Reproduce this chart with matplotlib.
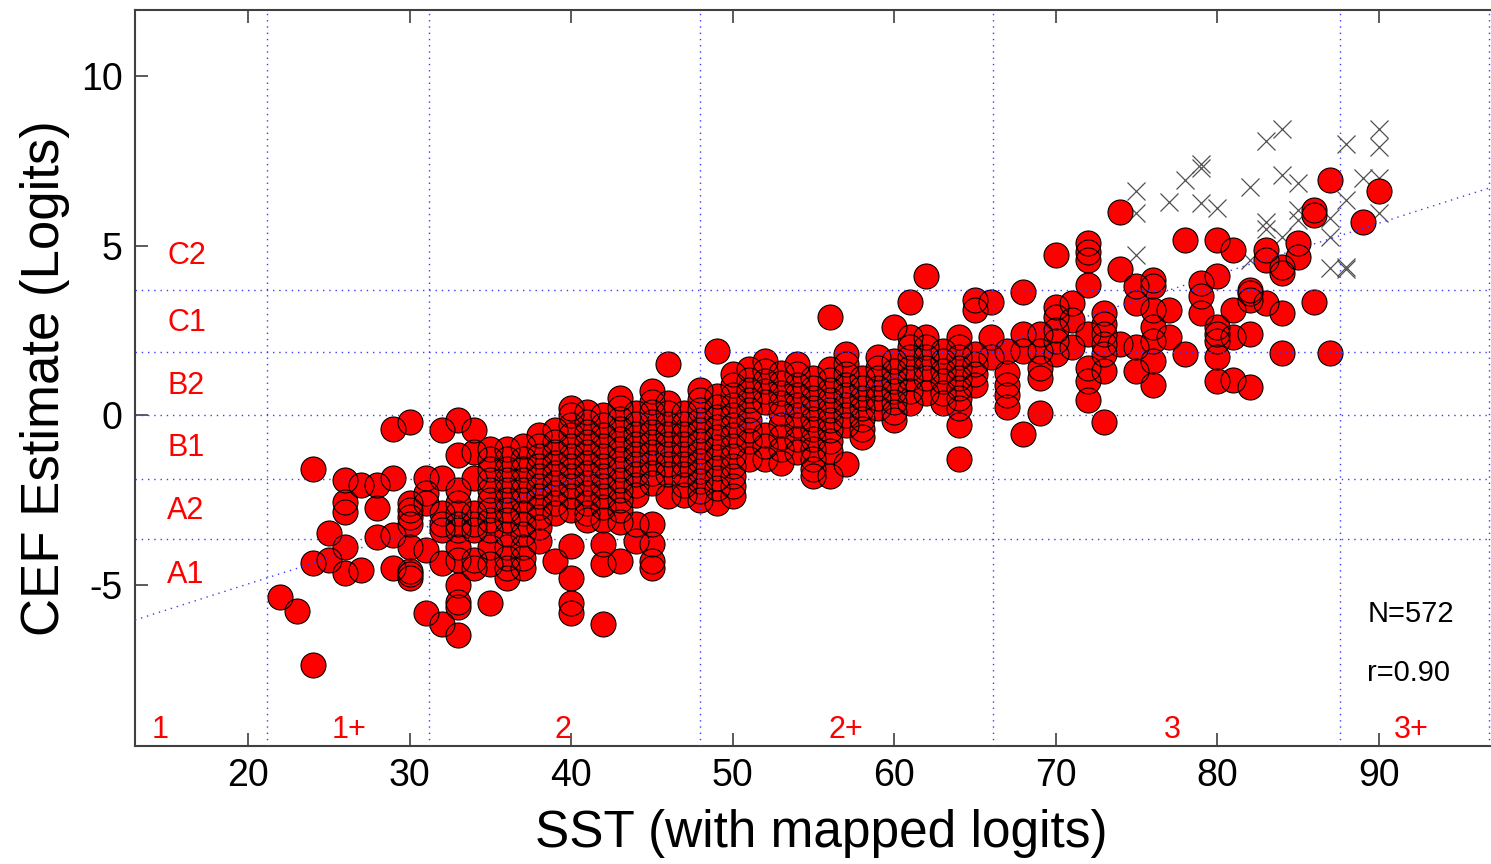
import matplotlib
matplotlib.use("Agg")
import matplotlib.pyplot as plt

plt.rcParams["font.family"] = ["Liberation Sans", "DejaVu Sans"]
plt.rcParams["axes.unicode_minus"] = False

# SST score columns and the CEF estimates (logits)
col_sst = [22, 23, 24, 25, 26, 27, 28, 29, 30, 31, 32, 33, 34, 35, 36, 37, 38, 39,
           40, 41, 42, 43, 44, 45, 46, 47, 48, 49, 50, 51, 52, 53, 54, 55, 56, 57,
           58, 59, 60, 61, 62, 63, 64, 65, 66, 67, 68, 69, 70, 71, 72, 73, 74, 75,
           76, 77, 78, 79, 80, 81, 82, 83, 84, 85, 86, 87, 89, 90]
col_cef = [
    [-5.37],
    [-5.78],
    [-1.6, -4.37, -7.37],
    [-3.48, -4.28],
    [-1.92, -2.56, -2.85, -3.88, -4.67],
    [-2.07, -4.57],
    [-2.07, -2.75, -3.59],
    [-0.4, -1.86, -3.54, -4.51],
    [-0.2, -2.6, -2.8, -3.0, -3.2, -3.9, -4.6, -4.7, -4.8],
    [-1.86, -2.3, -2.6, -3.98, -5.85],
    [-0.44, -1.86, -2.9, -3.2, -3.4, -4.37, -6.15],
    [-0.15, -1.18, -2.2, -2.6, -2.9, -3.2, -3.4, -3.9, -4.28, -5.0, -5.5, -5.65, -6.5],
    [-0.44, -1.08, -1.86, -2.9, -3.2, -3.4, -4.28, -4.5],
    [-1.0, -1.3, -1.6, -1.9, -2.2, -2.5, -2.8, -3.1, -3.4, -3.9, -4.4, -5.55],
    [-1.0, -1.3, -1.6, -1.9, -2.2, -2.5, -2.8, -3.1, -3.5, -3.9, -4.2, -4.5, -4.8],
    [-0.9, -1.3, -1.6, -1.9, -2.2, -2.5, -2.9, -3.2, -3.5, -3.9, -4.2, -4.5],
    [-0.6, -0.9, -1.2, -1.5, -1.8, -2.1, -2.4, -2.7, -3.0, -3.3, -3.7],
    [-0.45, -0.8, -1.1, -1.4, -1.7, -2.0, -2.3, -2.6, -2.9, -4.3],
    [0.2, 0.0, -0.3, -0.6, -0.9, -1.2, -1.5, -1.8, -2.1, -2.4, -2.8, -3.85, -4.8, -5.55, -5.85],
    [0.1, -0.2, -0.5, -0.8, -1.1, -1.4, -1.7, -2.0, -2.3, -2.6, -2.9, -3.1],
    [0.0, -0.3, -0.6, -0.9, -1.2, -1.5, -1.8, -2.1, -2.4, -2.7, -3.1, -3.8, -4.4, -6.15],
    [0.5, 0.2, -0.1, -0.4, -0.7, -1.0, -1.3, -1.6, -1.9, -2.2, -2.5, -2.8, -3.15, -4.3],
    [0.05, -0.25, -0.55, -0.85, -1.15, -1.45, -1.75, -2.05, -2.35, -3.2, -3.7],
    [0.7, 0.4, 0.1, -0.2, -0.5, -0.8, -1.1, -1.4, -1.7, -2.0, -3.2, -3.8, -4.3, -4.5],
    [1.5, 0.35, 0.05, -0.25, -0.55, -0.85, -1.15, -1.45, -1.75, -2.4],
    [0.05, -0.25, -0.55, -0.85, -1.15, -1.45, -1.75, -2.05, -2.35],
    [0.75, 0.45, 0.15, -0.15, -0.45, -0.75, -1.05, -1.35, -1.65, -1.95, -2.25, -2.5],
    [1.9, 0.55, 0.25, -0.05, -0.35, -0.65, -0.95, -1.25, -1.55, -1.85, -2.15, -2.6],
    [1.2, 0.9, 0.6, 0.3, 0.0, -0.3, -0.6, -0.9, -1.2, -1.5, -1.8, -2.1, -2.4],
    [1.35, 1.05, 0.75, 0.45, 0.15, -0.15, -0.45, -0.75, -1.3],
    [1.6, 1.3, 1.0, 0.7, 0.4, -0.6, -0.9, -1.3],
    [1.25, 0.95, 0.65, 0.35, 0.05, -0.3, -0.65, -1.0, -1.4],
    [1.5, 1.2, 0.9, 0.6, 0.3, 0.0, -0.3, -0.7, -1.1],
    [1.1, 0.8, 0.5, 0.2, -0.1, -0.4, -0.7, -1.0, -1.3, -1.6, -1.8],
    [2.9, 1.35, 1.05, 0.75, 0.45, 0.15, -0.15, -0.45, -0.75, -1.05, -1.8],
    [1.8, 1.5, 1.2, 0.9, 0.6, 0.3, 0.0, -0.3, -1.45],
    [1.1, 0.8, 0.5, 0.2, -0.1, -0.4, -0.65],
    [1.7, 1.4, 1.1, 0.8, 0.5, 0.2],
    [2.6, 1.6, 1.3, 1.0, 0.7, 0.4, 0.1, -0.15],
    [3.35, 2.3, 2.0, 1.7, 1.4, 1.1, 0.7, 0.35],
    [4.1, 2.3, 2.0, 1.7, 1.4, 1.1, 0.65],
    [1.9, 1.6, 1.3, 1.0, 0.65, 0.35],
    [2.3, 2.0, 1.7, 1.4, 1.1, 0.8, 0.5, 0.2, -0.3, -1.3],
    [3.4, 3.1, 1.8, 1.5, 1.2, 0.9],
    [3.34, 2.3, 1.7],
    [1.9, 1.25, 0.9, 0.6, 0.25],
    [3.64, 2.4, 1.9, -0.55],
    [2.4, 1.9, 1.4, 1.1, 0.05],
    [4.72, 3.2, 2.9, 2.5, 2.2, 1.8],
    [3.3, 2.8, 2.0],
    [5.07, 4.8, 4.57, 3.83, 2.4, 1.4, 1.0, 0.44],
    [3.0, 2.7, 2.4, 2.1, 1.8, 1.3, -0.2],
    [6.0, 4.3, 2.1],
    [3.8, 3.3, 2.0, 1.3],
    [4.0, 3.8, 3.1, 2.6, 2.2, 1.6, 0.9],
    [3.1, 2.3],
    [5.16, 1.8],
    [3.9, 3.5, 3.0],
    [5.16, 4.1, 2.6, 2.4, 2.2, 1.7, 1.0],
    [4.87, 3.1, 2.3, 1.03],
    [3.7, 3.6, 3.4, 2.4, 0.83],
    [4.87, 4.57, 3.3],
    [4.37, 4.2, 3.0, 1.83],
    [5.07, 4.67],
    [6.05, 5.9, 3.34],
    [6.93, 1.83],
    [5.7],
    [6.6],
]

# points shown as grey crosses
cross_sst = [75, 75, 75, 77, 78, 79, 79, 79, 80, 82, 82, 83, 83, 83, 84, 84, 84,
             85, 85, 85, 87, 87, 87, 88, 88, 88, 88, 89, 90, 90, 90, 90]
cross_cef = [6.6, 5.95, 4.72, 6.3, 6.93, 7.3, 7.4, 6.25, 6.1, 6.73, 4.57, 8.1, 5.7,
             5.5, 8.45, 7.08, 5.25, 6.84, 6.05, 5.75, 5.8, 5.25, 4.33, 8.0, 6.34,
             4.37, 4.3, 7.0, 8.45, 7.9, 7.0, 5.95]

# regression line and level boundaries
fit_slope = 0.152
fit_intercept = -8.02
cef_bounds = [-3.65, -1.87, 0.0, 1.86, 3.69]
sst_bounds = [21.2, 31.2, 48.0, 66.1, 87.6, 96.85]

cef_levels = ["A1", "A2", "B1", "B2", "C1", "C2"]
cef_level_pos = [-4.72, -2.84, -0.98, 0.85, 2.71, 4.68]
sst_levels = ["1", "1+", "2", "2+", "3", "3+"]
sst_level_pos = [14.55, 26.25, 39.5, 57.0, 77.2, 92.0]

n_text = "N=572"
r_text = "r=0.90"

xs, ys = [], []
for s, vals in zip(col_sst, col_cef):
    for v in vals:
        xs.append(s)
        ys.append(v)

fig = plt.figure(figsize=(14.91, 8.64), dpi=100)
ax = fig.add_axes([135 / 1491, 118 / 864, 1373 / 1491, 736 / 864])
ax.set_xlim(13, 98)
ax.set_ylim(-9.76, 11.95)

ax.plot(cross_sst, cross_cef, ls="none", marker="x", ms=13, mew=0.9,
        color="#505050", zorder=2)
# faces first, then outlines, so every outline stays visible
ax.plot(xs, ys, ls="none", marker="o", ms=18, mfc="red", mec="none", zorder=3)
ax.plot(xs, ys, ls="none", marker="o", ms=18, mfc="none", mec="black",
        mew=0.8, zorder=4)

dots = (0, (1, 3.5))
for b in cef_bounds:
    ax.axhline(b, color="#3c3cff", lw=1, ls=dots, zorder=5)
for b in sst_bounds:
    ax.axvline(b, color="#3c3cff", lw=1, ls=dots, zorder=5)
fx = [13, 98]
ax.plot(fx, [fit_slope * v + fit_intercept for v in fx], color="#3c3cff",
        lw=1, ls=dots, zorder=5)

for lab, yv in zip(cef_levels, cef_level_pos):
    ax.text(15, yv, lab, color="red", fontsize=22, ha="left", va="center")
for lab, xv in zip(sst_levels, sst_level_pos):
    ax.text(xv, -9.3, lab, color="red", fontsize=22, ha="center", va="center")
ax.text(89.3, -5.87, n_text, fontsize=21, ha="left", va="center")
ax.text(89.3, -7.61, r_text, fontsize=21, ha="left", va="center")

ax.set_xticks(range(20, 100, 10))
ax.set_yticks([-5, 0, 5, 10])
ax.tick_params(direction="in", length=9.5, width=1.2, color="#404040",
               top=True, right=True, labelsize=27, pad=9)
for sp in ax.spines.values():
    sp.set_color("#404040")
    sp.set_linewidth(1.5)

ax.set_xlabel("SST (with mapped logits)", fontsize=37)
ax.set_ylabel("CEF Estimate (Logits)", fontsize=38)
ax.xaxis.set_label_coords(0.5, -0.085)
ax.yaxis.set_label_coords(-0.047, 0.5)

fig.savefig("out.png", dpi=100)
